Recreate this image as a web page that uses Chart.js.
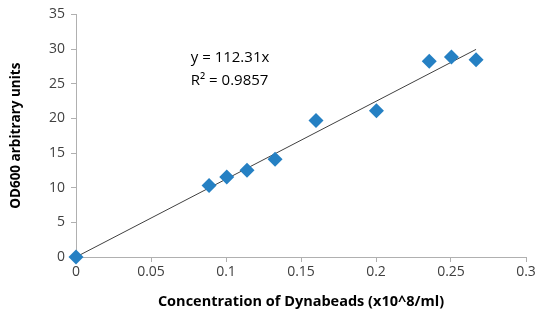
<!DOCTYPE html>
<html><head><meta charset="utf-8">
<script src="https://cdn.jsdelivr.net/npm/chart.js@4/dist/chart.umd.min.js"></script>
<style>html,body{margin:0;padding:0;background:#fff}#wrap{width:542px;height:316px}</style>
</head><body><div id="wrap"><canvas id="c" width="542" height="316"></canvas></div>
<script>
const concentration = [0, 0.0887, 0.1005, 0.1140, 0.1327, 0.1600, 0.2003, 0.2355, 0.2503, 0.2667];
const od600 = [0, 10.3, 11.55, 12.5, 14.1, 19.7, 21.1, 28.25, 28.85, 28.45];
const slope = 112.31;
const trendX = [0, 0.2667];
const equationText = "y = 112.31x";
const r2Text = "R\u00b2 = 0.9857";
const xTitle = "Concentration of Dynabeads (x10^8/ml)";
const yTitle = "OD600 arbitrary units";

const scatter = concentration.map((x, i) => ({x, y: od600[i]}));
const trend = trendX.map(x => ({x, y: slope * x}));

const textPlugin = {
  id: 'eq',
  afterDatasetsDraw(chart) {
    const ctx = chart.ctx;
    const xs = chart.scales.x, ys = chart.scales.y;
    ctx.save();
    ctx.fillStyle = '#000';
    ctx.font = '15px "Open Sans", sans-serif';
    ctx.textBaseline = 'middle';
    ctx.textAlign = 'left';
    const px = xs.getPixelForValue(0.0765);
    ctx.fillText(equationText, px, ys.getPixelForValue(28.7));
    ctx.fillText(r2Text, px, ys.getPixelForValue(25.5));
    ctx.restore();
  }
};

new Chart(document.getElementById('c'), {
  type: 'scatter',
  data: {
    datasets: [
      {data: trend, type: 'line', borderColor: '#404040', borderWidth: 1, pointRadius: 0, fill: false, order: 2, clip: false},
      {data: scatter, pointStyle: 'rectRot', pointRadius: 7.5, pointHoverRadius: 7.5, backgroundColor: '#2580c3', borderColor: '#2580c3', borderWidth: 0, order: 1, clip: false}
    ]
  },
  options: {
    responsive: false,
    animation: false,
    devicePixelRatio: 1,
    layout: {padding: {top: 13, right: 16, left: 0, bottom: 5}},
    plugins: {legend: {display: false}, tooltip: {enabled: false}},
    scales: {
      x: {
        type: 'linear', min: 0, max: 0.3,
        afterFit(s) { s.height = 54; },
        ticks: {stepSize: 0.05, color: '#404040', font: {size: 14, family: '"Open Sans", sans-serif'}, padding: 2,
          callback: v => Number(v.toFixed(2)).toString()},
        grid: {drawOnChartArea: false, color: '#b0b0b0', tickLength: 5, tickColor: '#b0b0b0'},
        border: {color: '#b0b0b0'},
        title: {display: true, text: xTitle, color: '#000', font: {size: 14.5, weight: 'bold', family: '"Open Sans", sans-serif'}, padding: {top: 0, bottom: 0}}
      },
      y: {
        min: 0, max: 35,
        afterFit(s) { s.width = 76; },
        ticks: {stepSize: 5, color: '#404040', font: {size: 14, family: '"Open Sans", sans-serif'}, padding: 6},
        grid: {drawOnChartArea: false, color: '#b0b0b0', tickLength: 5, tickColor: '#b0b0b0'},
        border: {color: '#b0b0b0'},
        title: {display: true, text: yTitle, color: '#000', font: {size: 13.5, weight: 'bold', family: '"Open Sans", sans-serif'}, padding: {top: 8, bottom: 4}}
      }
    }
  },
  plugins: [textPlugin]
});
</script></body></html>
